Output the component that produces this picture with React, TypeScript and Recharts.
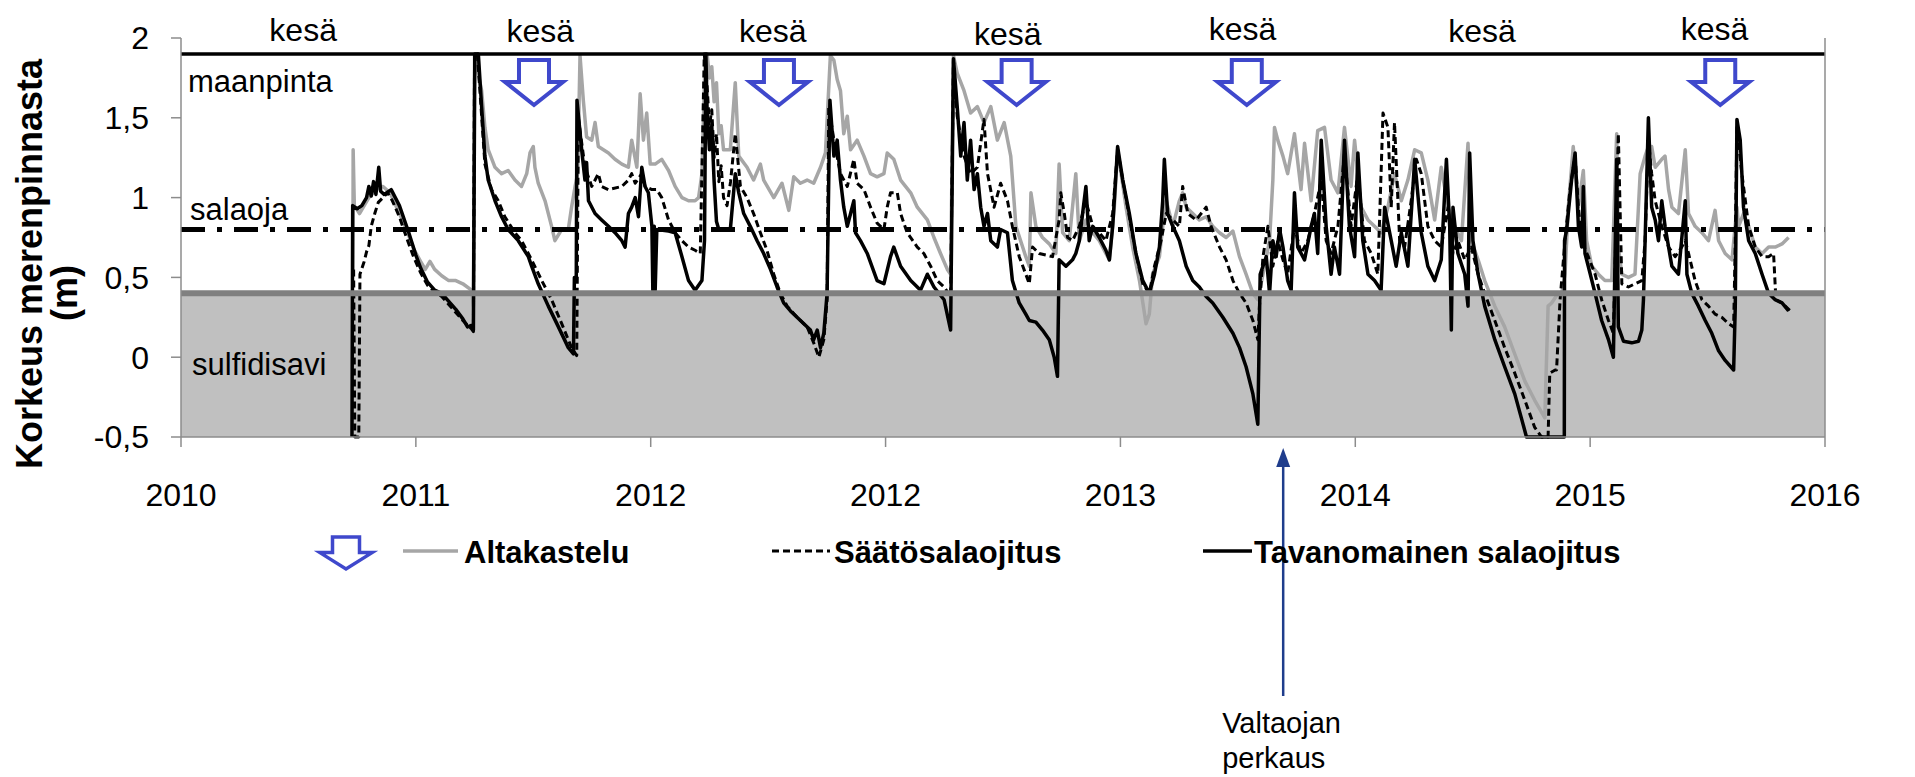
import React from "react";
import {
  ComposedChart,
  Legend,
  Line,
  ReferenceArea,
  ReferenceDot,
  ReferenceLine,
  XAxis,
  YAxis
} from "recharts";

type Pt = [number, number];

const FONT = "'Liberation Sans', Arial, sans-serif";

// x = position along the axis in tick steps (0..7), y = metres above sea level
const xTickLabels = ["2010", "2011", "2012", "2012", "2013", "2014", "2015", "2016"];
const xTicks = [0, 1, 2, 3, 4, 5, 6, 7];
const yTicks = [-0.5, 0, 0.5, 1, 1.5, 2];

const maanpinta = 1.9;
const salaoja = 0.8;
const sulfidisavi = 0.4;

const kesaLabels: Pt[] = [
  [0.52, 1.98], [1.53, 1.975], [2.52, 1.975], [3.52, 1.956],
  [4.52, 1.985], [5.54, 1.975], [6.53, 1.985]
];
const kesaArrows = [1.503, 2.546, 3.558, 4.538, 6.554];
const perkausX = 4.693;

const altakastelu: Pt[] = [
  [0.732,0.55],[0.733,1.3],[0.738,0.95],[0.76,0.9],[0.78,0.95],[0.8,1.0],[0.83,1.05],[0.86,1.07],[0.89,1.03],[0.93,0.9],[0.96,0.8],[0.99,0.68],[1.02,0.6],[1.04,0.55],[1.06,0.6],[1.08,0.55],[1.11,0.51],[1.14,0.48],[1.17,0.48],[1.2,0.46],[1.237,0.42],[1.245,0.32],
  [1.25,1.89],[1.28,1.67],[1.294,1.44],[1.308,1.3],[1.337,1.19],[1.365,1.15],[1.393,1.17],[1.422,1.11],[1.45,1.07],[1.472,1.15],[1.486,1.28],[1.5,1.32],[1.507,1.19],[1.521,1.09],[1.55,0.98],[1.578,0.82],[1.592,0.73],[1.621,0.8],[1.649,0.8],[1.663,0.94],[1.678,1.07],[1.689,1.15],[1.699,1.89],[1.713,1.61],[1.727,1.38],[1.749,1.36],[1.763,1.47],[1.777,1.32],[1.82,1.28],[1.848,1.24],[1.877,1.21],[1.905,1.19],[1.919,1.36],[1.941,1.19],[1.955,1.65],[1.969,1.36],[1.983,1.53],[1.998,1.21],[2.019,1.21],[2.047,1.24],[2.076,1.17],[2.104,1.07],[2.133,1.0],[2.161,0.98],[2.189,0.98],[2.204,1.0],[2.218,1.15],[2.232,1.89],
  [2.24,1.9],[2.25,1.75],[2.26,1.82],[2.27,1.6],[2.28,1.72],[2.29,1.4],[2.3,1.45],[2.31,1.3],[2.325,1.3],[2.339,1.3],[2.36,1.72],[2.375,1.26],[2.41,1.19],[2.438,1.11],[2.467,1.21],[2.481,1.11],[2.524,1.0],[2.559,1.09],[2.588,0.92],[2.609,1.13],[2.637,1.09],[2.666,1.11],[2.694,1.09],[2.723,1.19],[2.744,1.28],[2.765,1.89],[2.78,1.86],[2.794,1.74],[2.808,1.67],[2.822,1.4],[2.837,1.51],[2.851,1.3],[2.879,1.36],[2.908,1.26],[2.936,1.15],[2.964,1.13],[2.993,1.15],[3.007,1.28],[3.035,1.24],[3.064,1.11],[3.107,1.03],[3.135,0.94],[3.178,0.86],[3.206,0.75],[3.234,0.65],[3.263,0.55],[3.277,0.52],[3.289,1.89],
  [3.305,1.78],[3.334,1.67],[3.362,1.53],[3.391,1.57],[3.419,1.47],[3.448,1.57],[3.476,1.36],[3.505,1.47],[3.533,1.26],[3.555,0.82],[3.597,0.63],[3.612,0.57],[3.619,1.03],[3.64,0.82],[3.668,0.75],[3.697,0.71],[3.725,0.65],[3.739,1.21],[3.754,0.78],[3.782,0.73],[3.81,1.15],[3.825,0.73],[3.853,0.86],[3.882,0.78],[3.91,0.73],[3.938,0.65],[3.953,0.61],[3.974,0.94],[3.988,1.3],[4.024,0.94],[4.052,0.69],[4.081,0.48],[4.109,0.21],[4.123,0.27],[4.137,0.52],[4.166,0.63],[4.18,0.82],[4.195,0.98],[4.223,0.82],[4.251,0.98],[4.265,1.03],[4.28,0.94],[4.308,0.9],[4.336,0.86],[4.365,0.88],[4.393,0.82],[4.422,0.78],[4.45,0.75],[4.479,0.79],[4.507,0.63],[4.535,0.52],[4.564,0.4],[4.585,0.36],[4.607,0.52],[4.635,0.73],[4.649,1.11],[4.656,1.44],[4.67,1.36],[4.692,1.26],
  [4.712,1.15],[4.741,1.4],[4.769,1.05],[4.784,1.34],[4.812,0.98],[4.84,1.42],[4.869,1.44],[4.897,1.11],[4.926,1.03],[4.954,1.44],[4.982,1.07],[4.997,1.36],[5.025,0.94],[5.054,0.86],[5.082,0.82],[5.11,0.78],[5.139,0.94],[5.167,1.15],[5.196,0.98],[5.224,1.11],[5.253,1.3],[5.281,1.28],[5.309,1.11],[5.338,0.86],[5.366,1.19],[5.395,0.94],[5.423,0.82],[5.452,0.73],[5.48,1.34],[5.494,0.73],[5.523,0.61],[5.551,0.48],[5.594,0.32],[5.636,0.19],[5.679,0.02],[5.722,-0.15],[5.764,-0.27],[5.807,-0.38],[5.821,0.32],[5.836,0.34],[5.864,0.4],[5.879,0.4],[5.893,0.52],[5.907,0.94],[5.928,1.32],[5.95,0.94],[5.971,1.17],[5.985,0.73],[6.007,0.57],[6.035,0.52],[6.063,0.48],[6.092,0.48],[6.113,1.4],[6.12,0.69],[6.135,0.52],[6.163,0.5],[6.191,0.52],[6.213,1.15],[6.234,1.26],[6.248,1.32],[6.262,1.32],[6.277,1.19],[6.305,1.24],[6.319,1.26],[6.334,1.05],[6.348,0.94],[6.376,0.9],[6.405,1.3],[6.419,0.9],[6.447,0.82],[6.476,0.78],[6.504,0.73],[6.532,0.92],[6.547,0.73],[6.575,0.65],[6.604,0.61],[6.625,0.94],[6.632,0.82],[6.653,0.9],[6.675,0.82],[6.703,0.69],[6.732,0.65],[6.76,0.69],[6.788,0.69],[6.817,0.71],[6.845,0.75]
];

const saatosalaojitus: Pt[] = [
  [0.735,0.55],[0.74,-0.5],[0.757,-0.5],[0.762,0.52],[0.78,0.6],[0.79,0.66],[0.8,0.7],[0.81,0.82],[0.825,0.9],[0.84,0.97],[0.86,1.0],[0.88,1.03],[0.9,0.98],[0.93,0.88],[0.96,0.75],[0.99,0.63],[1.02,0.53],[1.05,0.45],[1.08,0.41],[1.11,0.38],[1.14,0.33],[1.17,0.28],[1.2,0.23],[1.235,0.18],[1.245,0.16],
  [1.25,1.9],[1.262,1.9],[1.294,1.21],[1.322,1.05],[1.351,0.98],[1.379,0.88],[1.422,0.78],[1.45,0.73],[1.493,0.61],[1.536,0.48],[1.578,0.36],[1.621,0.21],[1.663,0.06],[1.685,0.01],[1.692,1.5],[1.72,1.19],[1.749,1.07],[1.777,1.15],[1.791,1.07],[1.82,1.05],[1.877,1.07],[1.905,1.11],[1.919,1.15],[1.934,1.09],[1.962,1.15],[1.976,1.07],[2.005,1.05],[2.026,1.05],[2.047,1.0],[2.076,0.86],[2.104,0.78],[2.133,0.73],[2.161,0.69],[2.189,0.67],[2.211,0.65],[2.228,1.9],
  [2.24,1.7],[2.25,1.45],[2.26,1.55],[2.27,1.25],[2.28,1.4],[2.29,1.1],[2.3,1.2],[2.31,1.0],[2.325,0.95],[2.34,1.1],[2.36,1.4],[2.382,1.07],[2.41,1.0],[2.438,0.9],[2.467,0.78],[2.495,0.67],[2.524,0.52],[2.552,0.4],[2.581,0.32],[2.623,0.25],[2.666,0.19],[2.694,0.09],[2.716,0.0],[2.737,0.11],[2.751,0.36],[2.758,1.57],[2.78,1.36],[2.808,1.15],[2.837,1.07],[2.865,1.24],[2.879,1.09],[2.908,1.05],[2.936,0.94],[2.964,0.84],[2.993,0.8],[3.007,0.94],[3.021,1.03],[3.05,1.03],[3.064,0.9],[3.092,0.78],[3.135,0.69],[3.163,0.65],[3.192,0.57],[3.22,0.48],[3.249,0.44],[3.277,0.38],[3.289,1.86],
  [3.305,1.51],[3.334,1.26],[3.362,1.15],[3.391,1.19],[3.419,1.49],[3.434,1.15],[3.462,0.94],[3.49,1.09],[3.519,0.98],[3.54,0.82],[3.569,0.63],[3.597,0.52],[3.612,0.46],[3.626,0.69],[3.654,0.65],[3.711,0.63],[3.739,0.86],[3.746,1.03],[3.761,0.9],[3.775,0.75],[3.796,0.73],[3.825,0.82],[3.853,0.98],[3.882,0.82],[3.91,0.78],[3.938,0.73],[3.967,0.9],[3.988,1.3],[4.01,1.11],[4.038,0.88],[4.066,0.65],[4.095,0.46],[4.123,0.4],[4.145,0.57],[4.173,0.73],[4.195,0.9],[4.223,0.86],[4.251,0.82],[4.265,1.07],[4.287,0.9],[4.322,0.86],[4.365,0.94],[4.386,0.82],[4.422,0.69],[4.45,0.61],[4.479,0.48],[4.507,0.4],[4.535,0.34],[4.564,0.23],[4.585,0.11],[4.592,0.32],[4.607,0.63],[4.628,0.82],[4.649,0.57],[4.67,0.73],[4.692,0.61],
  [4.712,0.52],[4.741,0.82],[4.769,0.65],[4.798,0.73],[4.826,0.9],[4.855,1.11],[4.876,0.73],[4.897,0.65],[4.926,0.82],[4.954,1.28],[4.982,0.82],[5.011,1.15],[5.039,0.73],[5.068,0.65],[5.096,0.52],[5.118,1.53],[5.139,1.44],[5.153,0.94],[5.167,1.47],[5.189,0.73],[5.21,0.69],[5.238,0.98],[5.26,1.24],[5.281,1.15],[5.309,0.82],[5.338,0.73],[5.366,0.69],[5.395,0.94],[5.416,0.65],[5.437,0.73],[5.466,0.61],[5.494,0.69],[5.523,0.52],[5.551,0.4],[5.594,0.23],[5.636,0.06],[5.679,-0.1],[5.722,-0.27],[5.764,-0.44],[5.793,-0.5],[5.821,-0.5],[5.828,-0.1],[5.851,-0.08],[5.857,-0.08],[5.872,0.36],[5.893,0.73],[5.914,1.05],[5.936,1.26],[5.95,0.94],[5.964,0.73],[5.992,0.63],[6.021,0.52],[6.049,0.36],[6.078,0.23],[6.099,0.15],[6.12,1.4],[6.135,0.46],[6.163,0.44],[6.191,0.46],[6.22,0.48],[6.234,0.73],[6.248,1.36],[6.262,1.15],[6.277,0.98],[6.305,0.82],[6.334,0.69],[6.362,0.63],[6.39,0.69],[6.405,0.73],[6.419,0.65],[6.447,0.48],[6.476,0.36],[6.504,0.32],[6.532,0.27],[6.561,0.25],[6.589,0.21],[6.611,0.19],[6.618,0.73],[6.625,1.44],[6.646,1.15],[6.675,0.82],[6.703,0.69],[6.732,0.63],[6.76,0.63],[6.781,0.65],[6.791,0.36],[6.817,0.34],[6.852,0.29]
];

const tavanomainen: Pt[] = [
  [0.728,-0.5],[0.731,0.95],[0.75,0.93],[0.77,0.95],[0.79,1.0],[0.8,1.07],[0.81,1.01],[0.82,1.1],[0.83,1.02],[0.842,1.19],[0.85,1.04],[0.865,1.02],[0.895,1.05],[0.93,0.95],[0.97,0.78],[1.0,0.64],[1.02,0.56],[1.05,0.47],[1.08,0.42],[1.11,0.4],[1.14,0.35],[1.17,0.3],[1.2,0.24],[1.22,0.19],[1.237,0.2],[1.245,0.17],
  [1.251,1.9],[1.266,1.9],[1.28,1.57],[1.294,1.26],[1.308,1.11],[1.337,0.98],[1.365,0.88],[1.393,0.8],[1.436,0.73],[1.479,0.63],[1.493,0.57],[1.521,0.46],[1.564,0.32],[1.607,0.19],[1.649,0.06],[1.671,0.02],[1.675,0.5],[1.683,0.5],[1.686,1.61],[1.706,1.3],[1.72,1.11],[1.727,1.22],[1.735,0.98],[1.763,0.9],[1.791,0.86],[1.82,0.82],[1.848,0.78],[1.877,0.73],[1.891,0.69],[1.905,0.9],[1.919,0.94],[1.934,1.0],[1.948,0.88],[1.962,1.19],[1.976,1.07],[1.99,1.03],[2.005,0.82],[2.009,0.42],[2.015,0.82],[2.019,0.42],[2.026,0.8],[2.076,0.79],[2.104,0.78],[2.133,0.63],[2.161,0.48],[2.189,0.42],[2.218,0.48],[2.229,0.73],[2.235,1.9],
  [2.24,1.55],[2.25,1.3],[2.26,1.45],[2.27,1.1],[2.28,0.85],[2.29,0.8],[2.339,0.8],[2.36,1.15],[2.375,1.03],[2.396,0.9],[2.424,0.82],[2.453,0.73],[2.481,0.65],[2.51,0.55],[2.538,0.44],[2.566,0.34],[2.595,0.29],[2.623,0.25],[2.652,0.21],[2.68,0.17],[2.694,0.11],[2.709,0.17],[2.723,0.06],[2.737,0.15],[2.751,0.4],[2.763,1.61],[2.78,1.26],[2.794,1.36],[2.808,1.11],[2.822,0.94],[2.837,0.82],[2.851,0.9],[2.865,0.98],[2.872,0.78],[2.893,0.73],[2.922,0.65],[2.964,0.48],[2.993,0.46],[3.021,0.63],[3.035,0.69],[3.064,0.57],[3.107,0.48],[3.149,0.42],[3.178,0.52],[3.206,0.44],[3.249,0.36],[3.277,0.17],[3.289,1.87],
  [3.305,1.57],[3.32,1.26],[3.334,1.47],[3.348,1.11],[3.362,1.36],[3.377,1.05],[3.391,1.15],[3.405,0.94],[3.419,0.82],[3.434,0.9],[3.448,0.73],[3.476,0.69],[3.49,0.8],[3.519,0.78],[3.54,0.48],[3.569,0.34],[3.597,0.27],[3.612,0.23],[3.64,0.22],[3.668,0.17],[3.697,0.11],[3.718,0.0],[3.732,-0.12],[3.739,0.61],[3.768,0.57],[3.796,0.61],[3.81,0.65],[3.825,0.73],[3.839,0.9],[3.853,1.07],[3.867,0.73],[3.882,0.82],[3.91,0.75],[3.938,0.67],[3.953,0.61],[3.967,0.82],[3.981,1.15],[3.988,1.32],[4.01,1.11],[4.038,0.9],[4.066,0.65],[4.095,0.48],[4.123,0.4],[4.145,0.52],[4.166,0.69],[4.18,0.98],[4.187,1.24],[4.201,0.9],[4.223,0.82],[4.251,0.73],[4.28,0.57],[4.308,0.48],[4.336,0.44],[4.365,0.38],[4.393,0.34],[4.436,0.25],[4.479,0.15],[4.507,0.06],[4.535,-0.06],[4.564,-0.23],[4.585,-0.42],[4.595,0.52],[4.621,0.63],[4.635,0.4],[4.649,0.73],[4.663,0.63],[4.678,0.8],[4.692,0.69],
  [4.712,0.48],[4.727,0.42],[4.741,1.03],[4.755,0.69],[4.784,0.61],[4.812,0.82],[4.826,0.9],[4.84,0.65],[4.855,1.36],[4.876,0.82],[4.897,0.52],[4.911,0.69],[4.933,0.52],[4.954,1.36],[4.975,0.82],[4.997,0.63],[5.011,1.28],[5.032,0.73],[5.054,0.52],[5.082,0.48],[5.11,0.42],[5.125,0.94],[5.153,0.73],[5.174,0.57],[5.196,0.78],[5.224,0.57],[5.253,1.24],[5.281,0.78],[5.309,0.57],[5.338,0.48],[5.366,0.61],[5.388,1.24],[5.402,0.82],[5.409,0.17],[5.416,0.94],[5.437,0.65],[5.466,0.52],[5.48,0.32],[5.487,1.28],[5.501,0.73],[5.523,0.52],[5.551,0.32],[5.594,0.11],[5.636,-0.06],[5.679,-0.23],[5.707,-0.38],[5.729,-0.5],[5.89,-0.5],[5.891,0.73],[5.9,0.8],[5.921,1.11],[5.936,1.28],[5.95,0.82],[5.964,0.69],[5.971,1.07],[5.978,0.65],[5.992,0.57],[6.021,0.4],[6.049,0.23],[6.078,0.11],[6.099,0.0],[6.113,1.24],[6.12,0.19],[6.142,0.1],[6.177,0.09],[6.206,0.1],[6.22,0.17],[6.227,0.36],[6.234,0.73],[6.248,1.5],[6.262,0.94],[6.277,0.86],[6.291,0.73],[6.305,0.98],[6.319,0.82],[6.334,0.69],[6.348,0.57],[6.376,0.52],[6.405,0.98],[6.412,0.52],[6.433,0.4],[6.461,0.32],[6.49,0.23],[6.518,0.15],[6.547,0.04],[6.575,-0.02],[6.611,-0.08],[6.618,0.32],[6.625,1.49],[6.639,1.36],[6.653,0.94],[6.675,0.73],[6.703,0.65],[6.732,0.52],[6.76,0.4],[6.788,0.36],[6.817,0.34],[6.845,0.29]
];

const toRows = (pts: Pt[]) => pts.map(([x, y]) => ({ x, y }));

const series = [
  { name: "Altakastelu", data: toRows(altakastelu), stroke: "#a6a6a6", width: 3.5, dash: undefined, legend: [403, 458, 464] },
  { name: "Säätösalaojitus", data: toRows(saatosalaojitus), stroke: "#000", width: 3, dash: "7 4", legend: [772, 830, 834] },
  { name: "Tavanomainen salaojitus", data: toRows(tavanomainen), stroke: "#000", width: 3.5, dash: undefined, legend: [1203, 1252, 1254] }
];

const ARROW_BLUE = "#3f48cc";

const arrowPoints = (cx: number, cy: number, s = 1, sy = 1) =>
  [[-15, 0], [15, 0], [15, 22], [29, 22], [0, 45], [-29, 22], [-15, 22]]
    .map(([dx, dy]) => `${cx + dx * s},${cy + dy * sy}`)
    .join(" ");

const SummerArrow = (props: any) => (
  <polygon points={arrowPoints(props.cx, props.cy)} fill="#fff" stroke={ARROW_BLUE} strokeWidth={4} />
);

const KesaText = (props: any) => (
  <text x={props.cx} y={props.cy} textAnchor="middle" fontSize={32} fontFamily={FONT} fill="#000">
    kesä
  </text>
);

const PerkausNote = (props: any) => {
  const { cx, cy } = props;
  return (
    <g>
      <line x1={cx} y1={cy + 28} x2={cx} y2={cy + 259} stroke="#1f3d8c" strokeWidth={2.5} />
      <polygon points={`${cx},${cy + 11} ${cx - 7},${cy + 30} ${cx + 7},${cy + 30}`} fill="#1f3d8c" />
      <text x={cx - 61} y={cy + 296} fontSize={29} fontFamily={FONT} fill="#000">Valtaojan</text>
      <text x={cx - 61} y={cy + 331} fontSize={29} fontFamily={FONT} fill="#000">perkaus</text>
    </g>
  );
};

const LegendContent = () => (
  <svg width={1915} height={70}>
    <polygon points={arrowPoints(346, 22, 0.9, 0.71)} fill="#fff" stroke={ARROW_BLUE} strokeWidth={3.5} />
    {series.map((s) => (
      <g key={s.name}>
        <line x1={s.legend[0]} x2={s.legend[1]} y1={36} y2={36} stroke={s.stroke} strokeWidth={s.width} strokeDasharray={s.dash} />
        <text x={s.legend[2]} y={48} fontSize={31} fontWeight="bold" fontFamily={FONT} fill="#000">
          {s.name}
        </text>
      </g>
    ))}
  </svg>
);

const tickStyle = { fontSize: 32, fill: "#000", fontFamily: FONT };
const axisGrey = "#8c8c8c";
const fmtY = (v: number) => String(v).replace(".", ",");

export default function App() {
  return (
    <div style={{ position: "absolute", left: 0, top: 0, width: 1915, height: 777, background: "#fff" }}>
      <ComposedChart width={1915} height={777} margin={{ top: 38, right: 0, bottom: 280, left: 81 }}>
        <XAxis
          type="number"
          dataKey="x"
          domain={[0, 7]}
          ticks={xTicks}
          interval={0}
          tickFormatter={(v) => xTickLabels[v]}
          tick={tickStyle}
          tickSize={10}
          tickMargin={36}
          height={60}
          stroke={axisGrey}
          strokeWidth={1.5}
        />
        <YAxis
          yAxisId="left"
          domain={[-0.5, 2]}
          ticks={yTicks}
          interval={0}
          tickFormatter={fmtY}
          tick={tickStyle}
          tickSize={10}
          tickMargin={22}
          width={100}
          stroke={axisGrey}
          strokeWidth={1.5}
        />
        <YAxis
          yAxisId="right"
          orientation="right"
          domain={[-0.5, 2]}
          ticks={yTicks}
          interval={0}
          tickFormatter={fmtY}
          tick={{ ...tickStyle, textAnchor: "start" }}
          tickSize={10}
          tickMargin={18}
          width={90}
          stroke={axisGrey}
          strokeWidth={1.5}
        />
        <ReferenceArea yAxisId="left" x1={0} x2={7} y1={-0.5} y2={sulfidisavi} fill="#c0c0c0" fillOpacity={1} stroke="none" />
        {series.map((s) => (
          <Line
            key={s.name}
            name={s.name}
            yAxisId="left"
            data={s.data}
            dataKey="y"
            type="linear"
            stroke={s.stroke}
            strokeWidth={s.width}
            strokeDasharray={s.dash}
            strokeLinejoin="round"
            dot={false}
            activeDot={false}
            isAnimationActive={false}
          />
        ))}
        <ReferenceLine yAxisId="left" y={sulfidisavi} stroke="#808080" strokeWidth={6} />
        <ReferenceLine yAxisId="left" y={maanpinta} stroke="#000" strokeWidth={3.5} />
        <ReferenceLine yAxisId="left" y={salaoja} stroke="#000" strokeWidth={5} strokeDasharray="24 12 5 12" />
        {kesaLabels.map(([x, y]) => (
          <ReferenceDot key={"k" + x} yAxisId="left" x={x} y={y} ifOverflow="visible" shape={KesaText} />
        ))}
        {kesaArrows.map((x) => (
          <ReferenceDot key={"a" + x} yAxisId="left" x={x} y={1.862} ifOverflow="visible" shape={SummerArrow} />
        ))}
        <ReferenceDot yAxisId="left" x={perkausX} y={-0.5} ifOverflow="visible" shape={PerkausNote} />
        <Legend
          layout="horizontal"
          verticalAlign="middle"
          align="center"
          wrapperStyle={{ position: "absolute", left: 0, top: 515, width: 1915, height: 70 }}
          content={LegendContent}
        />
      </ComposedChart>
      <svg
        width={130}
        height={520}
        style={{ position: "absolute", left: 0, top: 0, pointerEvents: "none" }}
        fontFamily={FONT}
        fontWeight="bold"
        fontSize={36}
      >
        <text transform="translate(42,264) rotate(-90)" textAnchor="middle">Korkeus merenpinnasta</text>
        <text transform="translate(77,293) rotate(-90)" textAnchor="middle">(m)</text>
      </svg>
      <svg width={420} height={420} style={{ position: "absolute", left: 0, top: 0, pointerEvents: "none" }} fontFamily={FONT} fontSize={31}>
        <text x={188} y={92}>maanpinta</text>
        <text x={190} y={220}>salaoja</text>
        <text x={192} y={375}>sulfidisavi</text>
      </svg>
    </div>
  );
}
